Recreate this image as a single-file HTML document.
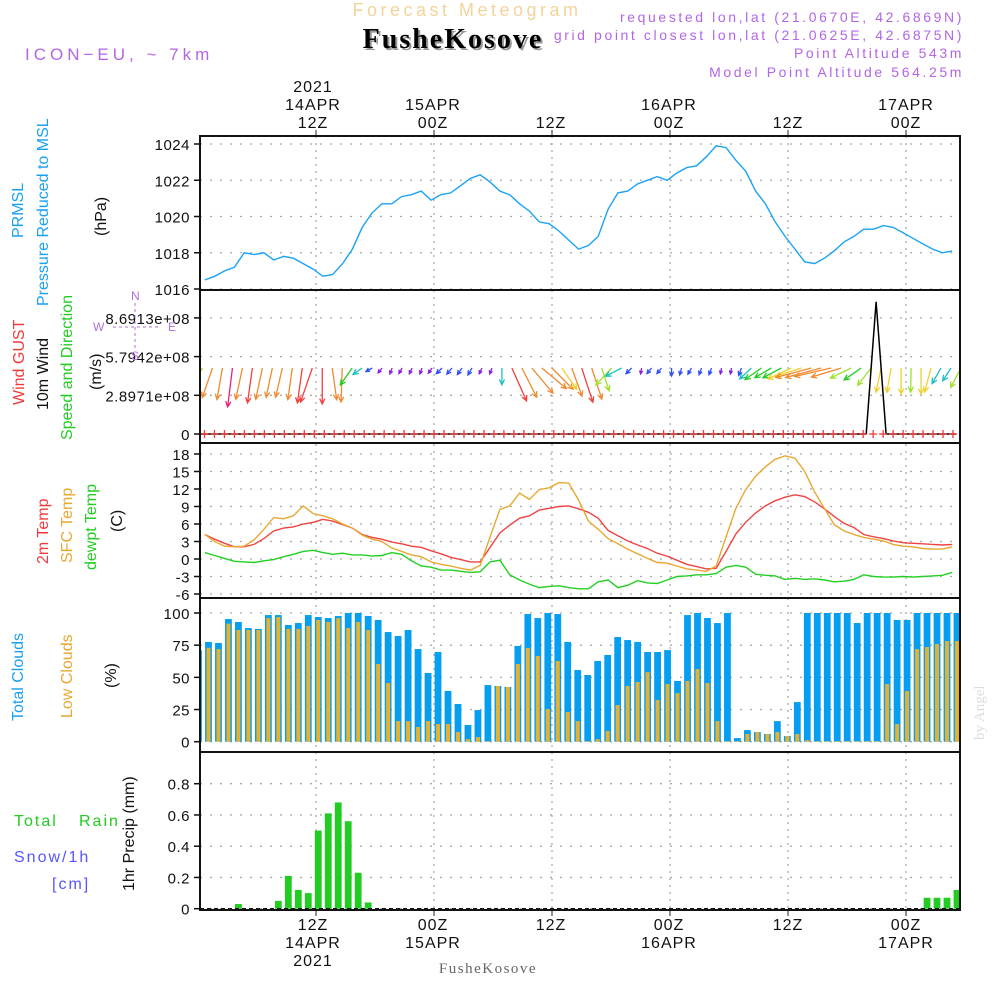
<!DOCTYPE html>
<html><head><meta charset="utf-8"><style>
html,body{margin:0;padding:0;background:#fff;}
svg{display:block;font-family:"Liberation Sans",sans-serif;}
</style></head><body>
<svg id="chart" width="1000" height="1000" viewBox="0 0 1000 1000" xmlns="http://www.w3.org/2000/svg">
<defs>
<clipPath id="clipP"><rect x="200" y="136" width="760" height="154"/></clipPath>
<clipPath id="clipW"><rect x="200" y="290" width="760" height="153"/></clipPath>
<clipPath id="clipT"><rect x="200" y="443" width="760" height="155"/></clipPath>
<clipPath id="clipC"><rect x="200" y="598" width="760" height="154"/></clipPath>
<clipPath id="clipR"><rect x="200" y="752" width="760" height="158"/></clipPath>
</defs>
<g id="grid"></g>
<g id="marks"></g>
<g id="frames"></g>
<g id="labels">
<text x="467" y="16" text-anchor="middle" fill="#f2d49a" font-size="18" letter-spacing="3.5">Forecast Meteogram</text>
<text x="455" y="50" text-anchor="middle" fill="#999" font-family="Liberation Serif,serif" font-weight="bold" font-size="28" letter-spacing="2">FusheKosove</text>
<text x="453" y="48" text-anchor="middle" fill="#000" font-family="Liberation Serif,serif" font-weight="bold" font-size="28" letter-spacing="2">FusheKosove</text>
<text x="25" y="60" fill="#b266e6" font-size="17" letter-spacing="4">ICON−EU, ~ 7km</text>
<g fill="#b266e6" font-size="14" letter-spacing="2.6" text-anchor="end">
<text x="964" y="22">requested lon,lat (21.0670E, 42.6869N)</text>
<text x="964" y="40">grid point closest lon,lat (21.0625E, 42.6875N)</text>
<text x="964" y="58">Point Altitude 543m</text>
<text x="964" y="77">Model Point Altitude 564.25m</text>
</g>
<g font-size="16" text-anchor="middle" fill="#111" letter-spacing="1">
<text x="313" y="92">2021</text><text x="313" y="110">14APR</text><text x="313" y="128">12Z</text>
<text x="433" y="110">15APR</text><text x="433" y="128">00Z</text>
<text x="551" y="128">12Z</text>
<text x="669" y="110">16APR</text><text x="669" y="128">00Z</text>
<text x="788" y="128">12Z</text>
<text x="906" y="110">17APR</text><text x="906" y="128">00Z</text>
</g>
<g font-size="16" text-anchor="middle" fill="#111" letter-spacing="1">
<text x="313" y="930">12Z</text><text x="313" y="948">14APR</text><text x="313" y="966">2021</text>
<text x="433" y="930">00Z</text><text x="433" y="948">15APR</text>
<text x="551" y="930">12Z</text>
<text x="669" y="930">00Z</text><text x="669" y="948">16APR</text>
<text x="788" y="930">12Z</text>
<text x="906" y="930">00Z</text><text x="906" y="948">17APR</text>
</g>
<text x="488" y="973" text-anchor="middle" fill="#666" font-family="Liberation Serif,serif" font-size="15" letter-spacing="1.5">FusheKosove</text>
<text transform="translate(984,740) rotate(-90)" fill="#ddd" font-family="Liberation Serif,serif" font-size="15">by Angel</text>
<g font-size="16">
<text transform="translate(23,238) rotate(-90)" fill="#1aa0f0">PRMSL</text>
<text transform="translate(48,306) rotate(-90)" fill="#1aa0f0">Pressure Reduced to MSL</text>
<text transform="translate(106,236) rotate(-90)" fill="#111">(hPa)</text>
<text transform="translate(24,405) rotate(-90)" fill="#f03a3a">Wind GUST</text>
<text transform="translate(48,410) rotate(-90)" fill="#111">10m Wind</text>
<text transform="translate(72,440) rotate(-90)" fill="#22cc22">Speed and Direction</text>
<text transform="translate(101,390) rotate(-90)" fill="#111">(m/s)</text>
<text transform="translate(48,564) rotate(-90)" fill="#f03a3a">2m Temp</text>
<text transform="translate(72,563) rotate(-90)" fill="#e8a830">SFC Temp</text>
<text transform="translate(96,570) rotate(-90)" fill="#22cc22">dewpt Temp</text>
<text transform="translate(122,532) rotate(-90)" fill="#111">(C)</text>
<text transform="translate(23,721) rotate(-90)" fill="#1aa0f0">Total Clouds</text>
<text transform="translate(72,718) rotate(-90)" fill="#e8a830">Low Clouds</text>
<text transform="translate(116,688) rotate(-90)" fill="#111">(%)</text>
<text transform="translate(134,891) rotate(-90)" fill="#111">1hr Precip (mm)</text>
<text x="14" y="826" fill="#22cc22" letter-spacing="2">Total</text>
<text x="79" y="826" fill="#22cc22" letter-spacing="2">Rain</text>
<text x="14" y="862" fill="#5555ff" letter-spacing="2">Snow/1h</text>
<text x="52" y="889" fill="#5555ff" letter-spacing="2">[cm]</text>
</g>
<g fill="#b070e0" stroke="#b070e0" font-size="12">
<line x1="135" y1="303" x2="135" y2="350" stroke-dasharray="3,3" fill="none"/>
<line x1="113" y1="327" x2="158" y2="327" stroke-dasharray="3,3" fill="none"/>
<text x="131" y="300" stroke="none">N</text><text x="131" y="360" stroke="none">S</text>
<text x="93" y="331" stroke="none">W</text><text x="168" y="331" stroke="none">E</text>
</g>
</g>
<script>
const pressure=[1016.5,1016.7,1017.0,1017.2,1018.0,1017.9,1018.0,1017.6,1017.8,1017.7,1017.4,1017.1,1016.7,1016.8,1017.4,1018.2,1019.4,1020.2,1020.7,1020.7,1021.1,1021.2,1021.4,1020.9,1021.2,1021.3,1021.7,1022.1,1022.3,1021.9,1021.4,1021.2,1020.7,1020.3,1019.7,1019.6,1019.2,1018.7,1018.2,1018.4,1018.9,1020.4,1021.3,1021.4,1021.8,1022.0,1022.2,1022.0,1022.4,1022.7,1022.8,1023.3,1023.9,1023.8,1023.1,1022.5,1021.4,1020.7,1019.7,1018.9,1018.2,1017.5,1017.4,1017.7,1018.1,1018.6,1018.9,1019.3,1019.3,1019.5,1019.4,1019.1,1018.8,1018.5,1018.2,1018.0,1018.1];
const temp2m=[4.2,3.4,2.7,2.1,2.1,2.5,3.5,4.8,5.3,5.5,6.0,6.3,6.8,6.5,5.9,5.3,4.2,3.7,3.4,2.9,2.6,2.2,2.0,1.4,0.9,0.3,-0.1,-0.5,-0.5,2.0,4.5,5.8,7.0,7.4,8.4,8.7,9.0,9.1,8.6,8.0,7.0,4.9,4.0,3.1,2.4,1.8,1.0,0.5,-0.2,-0.9,-1.3,-1.7,-1.6,1.3,4.3,6.3,7.9,9.1,10.0,10.6,11.0,10.7,9.8,8.6,7.3,6.1,5.4,4.2,3.8,3.5,3.1,2.8,2.7,2.6,2.5,2.4,2.5];
const tempSfc=[4.2,3.0,2.2,2.1,2.2,3.3,5.1,7.1,6.9,7.4,9.1,7.8,7.4,6.9,6.0,5.3,4.1,3.4,3.0,1.9,1.3,0.7,0.4,-0.5,-0.9,-1.2,-1.6,-1.9,-1.1,3.8,8.5,9.1,11.3,10.2,11.9,12.2,13.1,13.0,10.1,6.5,5.1,3.5,2.6,1.7,0.9,0.1,-0.6,-0.7,-1.2,-1.7,-1.9,-2.1,-1.2,3.8,8.7,11.9,14.2,15.8,17.1,17.7,17.3,15.0,11.5,8.7,5.9,4.8,4.2,3.7,3.4,3.1,2.5,2.2,2.1,1.8,1.7,1.7,2.1];
const tempDew=[1.1,0.6,0.1,-0.4,-0.5,-0.6,-0.3,-0.1,0.4,0.8,1.3,1.5,1.1,0.8,1.0,0.7,0.7,0.5,0.6,1.1,0.8,-0.3,-1.2,-1.4,-1.9,-1.9,-2.1,-2.3,-2.2,-0.5,-0.2,-2.7,-3.6,-4.3,-4.9,-4.7,-4.6,-4.9,-5.1,-5.1,-3.9,-3.6,-4.9,-4.5,-3.7,-4.1,-4.2,-3.6,-3.0,-2.9,-2.7,-2.7,-2.5,-1.4,-1.1,-1.4,-2.6,-2.8,-2.9,-3.5,-3.3,-3.5,-3.4,-3.6,-3.9,-3.8,-3.5,-2.7,-3.0,-3.1,-3.1,-3.0,-3.1,-3.0,-2.9,-2.8,-2.3];
const totalClouds=[71,77.5,76.7,95.3,93,88.3,87.6,98.4,98.4,90.7,92.2,98.4,96.9,96.1,97.7,100,100,97.7,94.6,85.2,82.1,86.8,72,53.4,69.7,39.4,29.3,13,24.6,44,43.3,42.5,74.4,99.2,96.1,100,99.2,77.5,55.7,51.8,62.7,67.4,81.3,79,77.5,69.7,69.7,71.2,47.2,98.4,100,96.1,92.2,100,2.8,9,7.5,6,16,4.4,30.8,100,100,100,100,100,92.2,100,100,100,94.6,94.6,100,100,100,100,100];
const lowClouds=[65,73,72,91.7,86.8,86.8,86.8,96,96.9,87.6,87.6,89.9,94.6,93,96,88.3,93,86.8,60.4,45.6,16,16,11.4,16,13.7,13.7,7.5,2,3.6,0.5,43.3,42.5,60.4,72.8,66.6,25.4,62.7,23,16,0.5,2,8.3,28.5,43.3,46.4,54.1,32.4,44.8,37.8,47.2,56.5,45.6,16,0.5,0.5,6,7.5,6,7.5,4.4,6,1.3,0.5,0.5,0.5,0.5,0.5,0.5,0.5,44.8,13.7,39.4,72,73.6,75.9,78.2,78.2];
const precip=[0,0,0,0,0.03,0,0,0,0.05,0.21,0.12,0.10,0.50,0.61,0.68,0.56,0.23,0.04,0,0,0,0,0,0,0,0,0,0,0,0,0,0,0,0,0,0,0,0,0,0,0,0,0,0,0,0,0,0,0,0,0,0,0,0,0,0,0,0,0,0,0,0,0,0,0,0,0,0,0,0,0,0,0,0.07,0.07,0.07,0.12];
const windDirFrom=[32,19,10,7,12,8,12,12,13,8,8,19,0,-8,2,35,55,60,40,20,30,25,20,35,45,40,35,30,25,20,0,-24,-27,-40,-50,-45,-35,-20,-18,-18,-18,43,63,45,10,40,40,0,15,30,20,20,10,10,20,47,55,60,62,65,72,75,75,77,73,64,55,38,12,10,0,1,0,15,30,33,28];
const windSpeed=[6,7.8,8,9.8,8,8.8,8,7.5,7.5,8,8.8,9,9,8,8.5,5.2,2.8,1.8,1.6,1.6,1.6,1.6,1.6,1.6,2,2,2,2,1.6,1.6,4.2,9,8.2,8.2,8,7.5,6.5,7.5,9,8.2,6,5.8,4.5,2,1.5,1.8,1.8,2,1.8,1.8,1.8,1.8,1.5,1.5,2,4,5,4.8,5.2,6.5,6.8,9.2,9.2,9.4,7.8,5.8,5.2,5.5,6.2,6.2,6.5,6,6.5,6.2,4.5,3.8,5.5];
const windGust=[0,0,0,0,0,0,0,0,0,0,0,0,0,0,0,0,0,0,0,0,0,0,0,0,0,0,0,0,0,0,0,0,0,0,0,0,0,0,0,0,0,0,0,0,0,0,0,0,0,0,0,0,0,0,0,0,0,0,0,0,0,0,0,0,0,0,0,0,9.9e8,0,0,0,0,0,0,0,0];
const pTicks=[1016,1018,1020,1022,1024];
const wTicks=[0,2.8971e8,5.7942e8,8.6913e8];
const wTickLabels=["0","2.8971e+08","5.7942e+08","8.6913e+08"];
const tTicks=[-6,-3,0,3,6,9,12,15,18];
const cTicks=[0,25,50,75,100];
const rTicks=[0,0.2,0.4,0.6,0.8];
const rTickLabels=["0","0.2","0.4","0.6","0.8"];
const gridHours=[12,24,36,48,60,72];

const NS="http://www.w3.org/2000/svg";
const X0=200,X1=960;
function xT(h){return 198+h*(590/60);}
function xPt(i){return xT(i+0.7);}
function xBar(i){return 198.5+i*9.98;}
const yP=v=>289-(v-1016)*18.125;
const yW=v=>434-v/2.8971e8*38.7;
const yT=v=>559-v*(17.5/3);
const yC=v=>741.7-v*1.287;
const yR=v=>908.7-v*156.25;
function mk(tag,attrs,parent){const e=document.createElementNS(NS,tag);for(const k in attrs)e.setAttribute(k,attrs[k]);parent.appendChild(e);return e;}
const grid=document.getElementById('grid'),marks=document.getElementById('marks'),frames=document.getElementById('frames');
const panels=[{top:136,bot:290},{top:290,bot:443},{top:443,bot:598},{top:598,bot:752},{top:752,bot:910}];
gridHours.forEach(h=>{
  const l=mk('line',{x1:xT(h),x2:xT(h),y1:136,y2:910,stroke:'#aaa','stroke-width':1.3,'stroke-dasharray':'2,5'},grid);
  
  
  const t1=mk('line',{x1:xT(h),x2:xT(h),y1:130,y2:136,stroke:'#222'},frames);
  
  
  const t2=mk('line',{x1:xT(h),x2:xT(h),y1:910,y2:916,stroke:'#222'},frames);
  
  
});
function yAxis(ticks,labels,fy,name){
  ticks.forEach((v,k)=>{
    const y=fy(v);
    const g=mk('line',{x1:X0,x2:X1,y1:y,y2:y,stroke:'#aaa','stroke-width':1.3,'stroke-dasharray':'2,8'},grid);
    
    
    const tk=mk('line',{x1:194,x2:200,y1:y,y2:y,stroke:'#111','stroke-width':1.5},frames);
    
    
    const t=mk('text',{x:190,y:y+6,'text-anchor':'end','font-size':15,fill:'#111','letter-spacing':0.5},frames);
    t.textContent=labels?labels[k]:String(v);
    
    
  });
}
yAxis(pTicks,null,yP,'pressure-y');
yAxis(wTicks,wTickLabels,yW,'wind-y');
yAxis(tTicks,null,yT,'temp-y');
yAxis(cTicks,null,yC,'clouds-y');
yAxis(rTicks,rTickLabels,yR,'precip-y');
panels.forEach(p=>{
  const r=mk('rect',{x:X0,y:p.top,width:X1-X0,height:p.bot-p.top,fill:'none',stroke:'#111','stroke-width':2},frames);
  
  
});
function line(arr,fy,color,clip,name){
  const d=arr.map((v,i)=>(i?'L':'M')+xPt(i).toFixed(1)+','+fy(v).toFixed(1)).join('');
  const p=mk('path',{d:d,fill:'none',stroke:color,'stroke-width':1.4,'clip-path':'url(#'+clip+')'},marks);
  
  
}
line(pressure,yP,'#1aa3f5','clipP','pressure-line');
const cg=mk('g',{'clip-path':'url(#clipC)'},marks);
totalClouds.forEach((v,i)=>{
  const b=mk('rect',{x:xBar(i)-3.4,y:yC(v),width:6.8,height:yC(0)-yC(v),fill:'#069ef0'},cg);
  
  
});
lowClouds.forEach((v,i)=>{
  const b=mk('rect',{x:xBar(i)-2,y:yC(v),width:4,height:yC(0)-yC(v),fill:'#e6b030'},cg);
  
  
});
const rg=mk('g',{'clip-path':'url(#clipR)'},marks);
precip.forEach((v,i)=>{
  if(v<=0)return;
  const b=mk('rect',{x:xBar(i)-3.4,y:yR(v),width:6.8,height:yR(0)-yR(v),fill:'#22cc22'},rg);
  
  
});
const zl=mk('line',{x1:X0,x2:X1,y1:yR(0),y2:yR(0),stroke:'#111','stroke-width':1.5,'stroke-dasharray':'4,3'},marks);


line(temp2m,yT,'#f04444','clipT','temp-2m-line');
line(tempSfc,yT,'#e8a830','clipT','temp-sfc-line');
line(tempDew,yT,'#22d022','clipT','dewpoint-line');
const wg=mk('g',{'clip-path':'url(#clipW)'},marks);
function windColor(s){
  if(s<1.7)return '#8a20e0';
  if(s<2.5)return '#3050f0';
  if(s<4.6)return '#20c0c0';
  if(s<5.3)return '#22cc22';
  if(s<6.1)return '#a0e030';
  if(s<7)return '#f0d030';
  if(s<8.6)return '#f08a30';
  if(s<9.1)return '#f04040';
  if(s<9.6)return '#f08a30';
  return '#e8207a';
}
windSpeed.forEach((s,i)=>{
  const th=windDirFrom[i]*Math.PI/180,L=s*4;
  const x1=xBar(i)+4,y1=368,x2=x1-Math.sin(th)*L,y2=y1+Math.cos(th)*L;
  const c=windColor(s);
  const a=Math.atan2(y2-y1,x2-x1),hl=Math.min(6,L*0.6);
  const d='M'+x1+','+y1+'L'+x2+','+y2+'M'+(x2-hl*Math.cos(a-0.45))+','+(y2-hl*Math.sin(a-0.45))+'L'+x2+','+y2+'L'+(x2-hl*Math.cos(a+0.45))+','+(y2-hl*Math.sin(a+0.45));
  const p=mk('path',{d:d,fill:'none',stroke:c,'stroke-width':1.3},wg);
  
  
});
const gd=windGust.map((v,i)=>(i?'L':'M')+(xBar(i)-1).toFixed(1)+','+yW(v).toFixed(1)).join('');
const gl=mk('path',{d:gd,fill:'none',stroke:'#000','stroke-width':1.5,'clip-path':'url(#clipW)'},marks);


const pg=mk('g',{'clip-path':'url(#clipW)'},marks);
windGust.forEach((v,i)=>{
  const x=xBar(i)+6,y=yW(0);
  const p=mk('path',{d:'M'+(x-4)+','+y+'L'+(x+4)+','+y+'M'+x+','+(y-4)+'L'+x+','+(y+4),stroke:'#f03a3a','stroke-width':1.3},pg);
  
  
});
</script>
</svg>
</body></html>
